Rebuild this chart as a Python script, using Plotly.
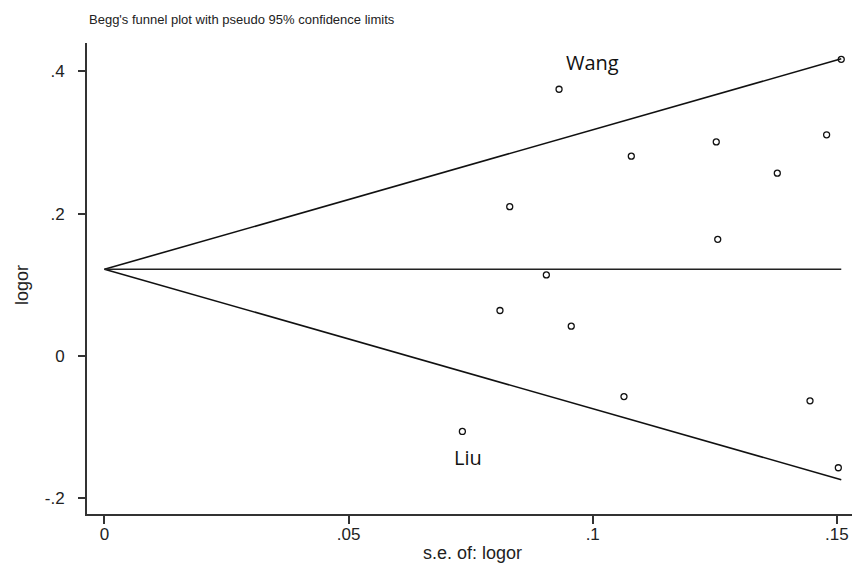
import plotly.graph_objects as go
import numpy as np

# Study data: standard error of log OR and log OR
se = [0.0931, 0.1079, 0.1253, 0.1479, 0.1378, 0.0830, 0.1256, 0.0905,
      0.1509, 0.0810, 0.0956, 0.1064, 0.1445, 0.0733, 0.1503]
logor = [0.375, 0.281, 0.301, 0.311, 0.257, 0.210, 0.164, 0.114,
         0.417, 0.064, 0.042, -0.057, -0.063, -0.106, -0.157]

pooled = 0.122
z = 1.96

labels = ["Wang", "Liu"]
label_x = [0.1000, 0.0744]
label_y = [0.412, -0.143]

x_ticks = [0, 0.05, 0.1, 0.15]
x_ticktext = ["0", ".05", ".1", ".15"]
y_ticks = [-0.2, 0, 0.2, 0.4]
y_ticktext = ["-.2", "0", ".2", ".4"]

se_max = max(se)
se_line = np.array([0.0, se_max])

line_style = dict(color="#111111", width=1.6)
fig = go.Figure()
fig.add_trace(go.Scatter(x=se_line, y=pooled + z * se_line, mode="lines",
                         line=line_style, showlegend=False, hoverinfo="skip"))
fig.add_trace(go.Scatter(x=se_line, y=pooled - z * se_line, mode="lines",
                         line=line_style, showlegend=False, hoverinfo="skip"))
fig.add_trace(go.Scatter(x=se_line, y=[pooled, pooled], mode="lines",
                         line=dict(color="#222222", width=1.4), showlegend=False, hoverinfo="skip"))
fig.add_trace(go.Scatter(x=se, y=logor, mode="markers",
                         marker=dict(symbol="circle-open", size=6, color="#111111",
                                     line=dict(width=1.3, color="#111111")),
                         showlegend=False, cliponaxis=False))

for t, lx, ly in zip(labels, label_x, label_y):
    fig.add_annotation(x=lx, y=ly, xref="x", yref="y", text=t, showarrow=False,
                       font=dict(family="Open Sans, Liberation Sans, sans-serif", size=20, color="#111111"))

tick_font = dict(family="Liberation Sans, Arial, sans-serif", size=17, color="#222222")
title_font = dict(family="Liberation Sans, Arial, sans-serif", size=18, color="#222222")

fig.update_layout(
    width=852, height=565,
    margin=dict(l=87, r=0, t=43, b=51),
    paper_bgcolor="white", plot_bgcolor="white",
    xaxis=dict(range=[-0.00358, 0.1531], tickvals=x_ticks, ticktext=x_ticktext,
               showgrid=False, zeroline=False, showline=True, linecolor="#333333", linewidth=2,
               ticks="outside", ticklen=8, tickwidth=1.5, tickcolor="#333333",
               tickfont=tick_font, ticklabelstandoff=-4),
    yaxis=dict(range=[-0.222, 0.440], tickvals=y_ticks, ticktext=y_ticktext,
               showgrid=False, zeroline=False, showline=True, linecolor="#333333", linewidth=2,
               ticks="outside", ticklen=7, tickwidth=1.5, tickcolor="#333333",
               tickfont=tick_font, ticklabelstandoff=10),
    annotations=list(fig.layout.annotations) + [
        dict(text="Begg's funnel plot with pseudo 95% confidence limits", xref="paper", yref="paper",
             x=0, y=1, xanchor="left", yanchor="bottom", yshift=14, showarrow=False,
             font=dict(family="Liberation Sans, Arial, sans-serif", size=13, color="#222222")),
        dict(text="s.e. of: logor", xref="paper", yref="paper", x=(472 - 87) / 765, y=0,
             xanchor="center", yanchor="middle", yshift=-39, showarrow=False, font=title_font),
        dict(text="logor", xref="paper", yref="paper", x=0, y=(514 - 285) / 471,
             xanchor="center", yanchor="middle", xshift=-65, textangle=-90, showarrow=False,
             font=title_font),
    ],
)

html = fig.to_html(include_plotlyjs=True, full_html=True, config={"displayModeBar": False})
html = html.replace("<head>", "<head><style>html,body{margin:0;padding:0;overflow:hidden;}</style>", 1)
with open("out.html", "w", encoding="utf-8") as f:
    f.write(html)
